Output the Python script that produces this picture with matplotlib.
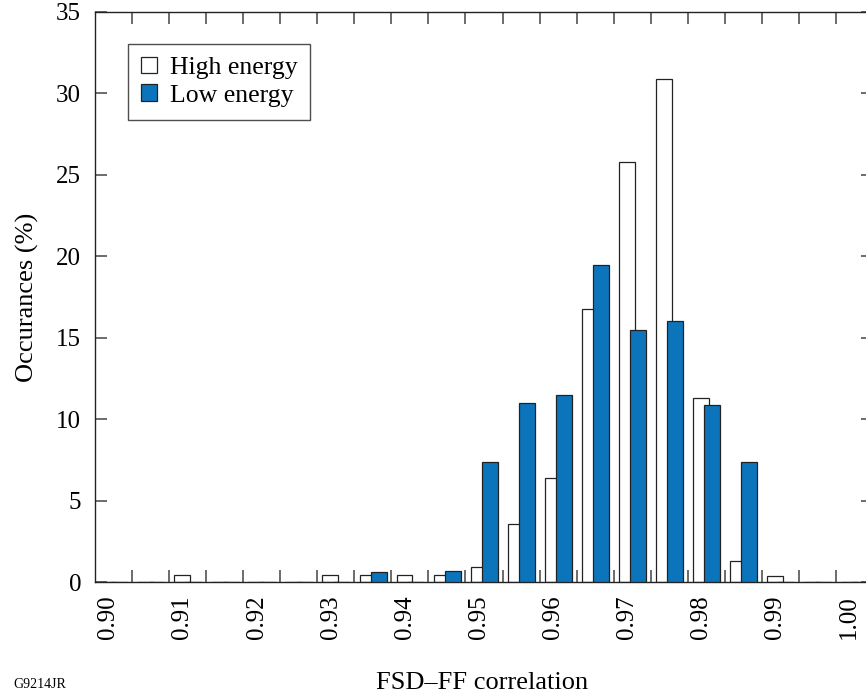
import numpy as np
import matplotlib
matplotlib.use('Agg')
import matplotlib.pyplot as plt
from matplotlib.patches import Patch

# ---- data ----
bins = ["0.900", "0.905", "0.910", "0.915", "0.920", "0.925", "0.930", "0.935",
        "0.940", "0.945", "0.950", "0.955", "0.960", "0.965", "0.970", "0.975",
        "0.980", "0.985", "0.990", "0.995", "1.000"]
high_energy = [0, 0, 0.43, 0, 0, 0, 0.43, 0.43, 0.43, 0.43, 0.92, 3.6, 6.4,
               16.75, 25.8, 30.9, 11.3, 1.3, 0.4, 0, 0]
low_energy = [0, 0, 0, 0, 0, 0, 0, 0.63, 0, 0.67, 7.4, 11.0, 11.5,
              19.45, 15.5, 16.0, 10.85, 7.4, 0, 0, 0]
tick_labels = ["0.90", "0.91", "0.92", "0.93", "0.94", "0.95", "0.96",
               "0.97", "0.98", "0.99", "1.00"]
y_ticks = [0, 5, 10, 15, 20, 25, 30, 35]

BLUE = '#0b74bb'
W, H = 866, 700
plt.rcParams['font.family'] = ['Liberation Serif', 'DejaVu Serif']

fig = plt.figure(figsize=(W / 100, H / 100), dpi=100)
ax = fig.add_axes([95 / W, (H - 582.3) / H, 778 / W, (582.3 - 11.7) / H])

idx = np.arange(len(bins))
bw = 0.43
ax.bar(idx + 0.355, high_energy, width=bw, color='white', edgecolor='#222222',
       linewidth=0.9, zorder=2)
ax.bar(idx + 0.66, low_energy, width=bw, color=BLUE, edgecolor='#222222',
       linewidth=0.9, zorder=3)

ax.set_xlim(0, len(bins))
ax.set_ylim(0, 35)

# major ticks at bin boundaries (no labels), minor ticks carry labels
ax.set_xticks(np.arange(1, len(bins)))
ax.set_xticklabels([])
ax.set_xticks(np.arange(0, len(bins), 2) + 0.36, minor=True)
ax.set_xticklabels(tick_labels, minor=True, rotation=90, fontsize=18)
ax.tick_params(axis='x', which='major', direction='in', length=8.6, width=1.1,
               color='#444444', top=True, bottom=True)
ax.tick_params(axis='x', which='minor', length=0, pad=9.5)

ax.set_yticks(y_ticks)
ax.set_yticklabels([str(v) for v in y_ticks], fontsize=18)
ax.tick_params(axis='y', direction='in', length=8.6, width=1.1, color='#444444',
               left=True, right=True, pad=10)

for s in ax.spines.values():
    s.set_linewidth(1.0)
    s.set_color('#222222')

ax.set_ylabel('Occurances (%)', fontsize=19, labelpad=12)
fig.text(482 / W, 1 - 683 / H, 'FSD\u2013FF correlation', fontsize=19,
         ha='center', va='center')
fig.text(13 / W, 1 - 685 / H, 'G9214JR', fontsize=10, ha='left', va='center')

handles = [Patch(facecolor='white', edgecolor='#222222', linewidth=0.9),
           Patch(facecolor=BLUE, edgecolor='#222222', linewidth=0.9)]
leg = fig.legend(handles, ['High energy', 'Low energy'], loc='upper left',
                 bbox_to_anchor=(128.3 / W, 1 - 44 / H), bbox_transform=fig.transFigure,
                 borderaxespad=0, fontsize=18.5, handlelength=0.62, handleheight=0.62,
                 handletextpad=0.5, labelspacing=0.2, borderpad=0.5,
                 fancybox=False, frameon=True)
leg.get_frame().set_edgecolor('#222222')
leg.get_frame().set_linewidth(1.0)

fig.savefig('out.png', dpi=100)
